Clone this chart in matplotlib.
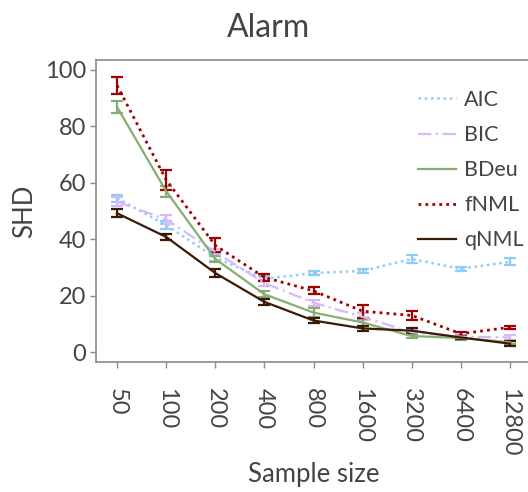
import matplotlib
matplotlib.use('Agg')
import matplotlib.pyplot as plt
from matplotlib.lines import Line2D
import numpy as np

# Data
sample_sizes = ['50', '100', '200', '400', '800', '1600', '3200', '6400', '12800']

aic = [54.5, 45.0, 33.5, 26.0, 28.0, 28.8, 33.0, 29.5, 32.0]
aic_err = [1.2, 1.5, 1.2, 0.8, 0.6, 0.8, 1.5, 0.8, 1.3]

bic = [53.3, 47.0, 35.5, 24.5, 17.5, 12.5, 7.0, 5.5, 5.2]
bic_err = [1.5, 1.5, 1.2, 1.2, 1.0, 1.2, 0.8, 0.6, 0.8]

bdeu = [86.8, 57.0, 33.0, 20.5, 14.0, 10.5, 5.7, 5.0, 3.5]
bdeu_err = [2.0, 2.0, 1.2, 1.0, 1.5, 1.2, 0.6, 0.6, 0.6]

fnml = [94.5, 61.0, 37.8, 26.5, 21.7, 14.5, 13.0, 6.5, 8.8]
fnml_err = [3.0, 3.5, 2.5, 1.2, 1.2, 2.3, 1.5, 0.8, 0.5]

qnml = [49.2, 40.8, 28.0, 17.8, 11.2, 8.4, 7.6, 5.2, 3.0]
qnml_err = [1.5, 1.2, 1.5, 1.0, 1.0, 0.8, 0.8, 0.6, 0.8]

series = [
    ('AIC', aic, aic_err, '#8ecdf5', (0, (1, 1.5)), 1.8),
    ('BIC', bic, bic_err, '#d9b8f7', (0, (6, 2, 1, 2)), 1.6),
    ('BDeu', bdeu, bdeu_err, '#86ae74', '-', 1.6),
    ('fNML', fnml, fnml_err, '#a00000', (0, (1, 1.5)), 2.0),
    ('qNML', qnml, qnml_err, '#3b1a06', '-', 1.6),
]

text_color = '#444444'
spine_color = '#8a8a8a'
plt.rcParams['font.family'] = ['Lato', 'DejaVu Sans']

fig = plt.figure(figsize=(5.28, 4.92), dpi=100)
ax = fig.add_axes([96 / 528, 1 - 362 / 492, (531 - 96) / 528, (362 - 60) / 492])

x = np.arange(len(sample_sizes))
handles = []
for name, vals, errs, color, ls, lw in series:
    ax.errorbar(x, vals, yerr=errs, color=color, linestyle=ls, linewidth=lw,
                elinewidth=1.6, capsize=4.5, capthick=1.6)
    handles.append(Line2D([], [], color=color, linestyle=ls, linewidth=lw, label=name))

ax.set_xlim(-0.43, len(sample_sizes) - 1 + 0.43)
ax.set_ylim(-3.5, 103.5)
ax.set_xticks(x)
ax.set_xticklabels(sample_sizes, rotation=270)
ax.set_yticks([0, 20, 40, 60, 80, 100])

for s in ax.spines.values():
    s.set_color(spine_color)
    s.set_linewidth(1.2)
ax.tick_params(axis='both', colors=spine_color, labelcolor=text_color,
               labelsize=17, length=4, width=1.0)
ax.tick_params(axis='x', pad=15)
ax.tick_params(axis='y', pad=3)

ax.set_xlabel('Sample size', fontsize=18.5, color=text_color, labelpad=4)
ax.set_ylabel('SHD', fontsize=18.5, color=text_color, labelpad=6)
fig.text(269 / 528, 1 - 28 / 492, 'Alarm', fontsize=23, color=text_color,
         ha='center', va='center')

leg = ax.legend(handles=handles, loc='upper left',
                bbox_to_anchor=(418 / 528, 1 - 90 / 492),
                bbox_transform=fig.transFigure, frameon=False, fontsize=15.5,
                handlelength=1.75, handletextpad=0.4, labelspacing=0.7,
                borderpad=0, borderaxespad=0)
for t in leg.get_texts():
    t.set_color(text_color)

fig.savefig('out.png', dpi=100)
